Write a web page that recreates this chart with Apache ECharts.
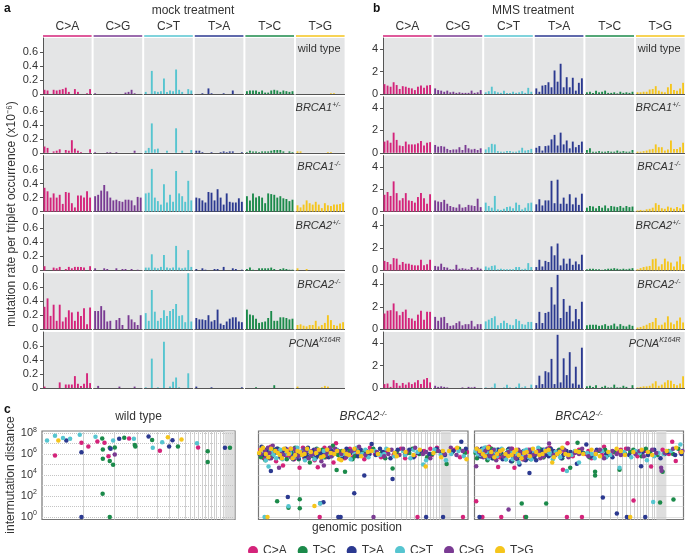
<!DOCTYPE html>
<html lang="en">
<head>
<meta charset="UTF-8">
<title>mutation spectra</title>
<style>html,body{margin:0;padding:0;background:#fff}#main{width:685px;height:553px}</style>
</head>
<body>
<div id="main"></div>
<script src="https://cdn.jsdelivr.net/npm/echarts@6/dist/echarts.min.js"></script>
<script>
// mutation classes and their colours
var groups = ['C>A', 'C>G', 'C>T', 'T>A', 'T>C', 'T>G'];
var groupColors = ['#d4237a', '#7a3b93', '#56c5d0', '#2b3990', '#1b8a4a', '#f5c51c'];
var contexts = ['A_A','A_C','A_G','A_T','C_A','C_C','C_G','C_T','G_A','G_C','G_G','G_T','T_A','T_C','T_G','T_T'];
var rowLabels = ['wild type', '{i|BRCA1}{s|+/-}', '{i|BRCA1}{s|-/-}', '{i|BRCA2}{s|+/-}', '{i|BRCA2}{s|-/-}', '{i|PCNA}{s|K164R}'];

// panel a: mock treatment (x10^-6)
var mockWildType = [
  [0.06,0.05,0,0.06,0.05,0.06,0.07,0.09,0.03,0,0.07,0.03,0,0,0.01,0.07],
  [0.01,0,0,0,0,0,0,0,0,0,0.02,0.03,0.06,0.01,0,0],
  [0.03,0,0.33,0.04,0.03,0.04,0.22,0.03,0.05,0.04,0.35,0.06,0.03,0,0.07,0.05],
  [0,0,0.01,0,0.08,0.01,0,0,0,0.01,0,0,0.05,0,0,0],
  [0.04,0.05,0.05,0.05,0.03,0.05,0.02,0.02,0.05,0.06,0.05,0.03,0.05,0.04,0.03,0.04],
  [0,0,0,0,0,0,0,0,0,0,0,0.01,0.01,0,0,0]
];
var mockBrca1Het = [
  [0.09,0.07,0,0.02,0.03,0.05,0,0.04,0.03,0.18,0.06,0.03,0.01,0,0,0.05],
  [0.01,0,0,0,0.01,0.01,0,0.01,0,0,0,0,0,0.03,0,0],
  [0.03,0.07,0.42,0.05,0.06,0,0,0.03,0,0,0.35,0,0.03,0,0,0.04],
  [0.03,0.03,0.01,0,0,0.01,0,0,0.01,0.02,0.01,0.02,0.02,0,0,0.01],
  [0.01,0.03,0.02,0.02,0.01,0.02,0.02,0.02,0.03,0.04,0.04,0.04,0.02,0,0.02,0.01],
  [0.02,0.02,0,0,0,0,0,0,0,0,0.01,0.01,0,0,0,0]
];
var mockBrca1Hom = [
  [0.34,0.29,0.2,0.26,0.2,0.24,0.11,0.28,0.27,0.12,0.06,0.23,0.23,0.2,0.29,0.2],
  [0.22,0.24,0.3,0.38,0.29,0.2,0.16,0.17,0.15,0.14,0.17,0.17,0.16,0.09,0.21,0.2],
  [0.26,0.27,0.61,0.2,0.15,0.1,0.39,0.13,0.24,0.14,0.58,0.26,0.22,0.14,0.44,0.16],
  [0.2,0.19,0.16,0.13,0.28,0.27,0.16,0.32,0.2,0.1,0.26,0.14,0.13,0.13,0.19,0.14],
  [0.22,0.16,0.26,0.2,0.22,0.2,0.12,0.26,0.25,0.24,0.2,0.22,0.19,0.18,0.15,0.17],
  [0.09,0.06,0.1,0.16,0.12,0.1,0.14,0.1,0.05,0.12,0.09,0.08,0.1,0.1,0.11,0.13]
];
var mockBrca2Het = [
  [0.06,0,0,0.04,0.03,0.05,0,0.02,0.05,0.03,0.05,0.05,0.05,0.04,0,0.06],
  [0.03,0,0,0.03,0.02,0,0,0.03,0,0.02,0.02,0,0.02,0,0.01,0],
  [0.04,0.04,0.23,0.04,0.03,0.05,0.22,0.04,0.03,0.04,0.35,0.04,0.03,0.04,0.29,0.05],
  [0.02,0,0.03,0.01,0,0,0.02,0.02,0,0.05,0,0,0.03,0.02,0,0.01],
  [0.02,0.04,0.01,0,0.03,0.03,0.03,0.03,0.04,0.02,0,0.02,0.03,0.02,0.01,0.01],
  [0.03,0,0,0.02,0,0,0,0,0,0,0,0,0,0,0,0]
];
var mockBrca2Hom = [
  [0.32,0.44,0.19,0.35,0.12,0.35,0.11,0.17,0.27,0.24,0.12,0.25,0.19,0.3,0.07,0.31],
  [0.26,0.26,0.33,0.27,0.11,0.12,0,0.13,0.16,0.06,0,0.2,0.14,0.1,0.06,0.2],
  [0.23,0.12,0.56,0.25,0.12,0.16,0.27,0.19,0.26,0.29,0.36,0.19,0.2,0.1,0.8,0.11],
  [0.16,0.14,0.14,0.13,0.2,0.11,0.13,0.28,0.08,0.06,0.11,0.15,0.17,0.17,0.11,0.1],
  [0.28,0.21,0.2,0.15,0.09,0.1,0.11,0.16,0.26,0.12,0.12,0.17,0.17,0.16,0.14,0.15],
  [0.06,0.07,0.05,0.04,0.06,0.06,0.12,0.04,0.06,0.09,0.2,0.13,0.06,0.05,0.08,0.1]
];
var mockPcna = [
  [0.02,0,0,0,0,0.08,0,0.05,0.05,0.05,0.17,0.06,0.03,0.06,0.21,0.07],
  [0,0.03,0,0,0,0,0,0,0.02,0,0,0,0,0.02,0,0],
  [0.01,0,0.42,0,0.01,0,0.66,0,0.02,0.09,0.15,0.01,0,0,0.21,0],
  [0.02,0,0,0,0,0.01,0,0,0,0,0,0,0,0,0,0.01],
  [0,0,0,0.01,0,0,0,0,0,0.04,0,0,0,0,0,0],
  [0.02,0,0,0,0,0,0,0,0.01,0.03,0.02,0,0,0,0,0]
];

// panel b: MMS treatment (x10^-6)
var mmsWildType = [
  [0.88,0.75,0.65,1.05,0.8,0.45,0.7,0.65,0.55,0.5,0.35,0.65,0.75,0.55,0.75,0.8],
  [0.5,0.35,0.3,0.2,0.3,0.15,0.2,0.1,0.15,0.1,0.1,0.1,0.3,0.1,0.15,0.35],
  [0.15,0.25,0.65,0.25,0.15,0.1,0.3,0.1,0.1,0.2,0.1,0.15,0.25,0.1,0.55,0.2],
  [0.5,0.2,0.75,0.8,1.05,0.6,2.1,1.1,2.7,0.6,1.5,0.6,1.45,0.3,1.0,1.4],
  [0.15,0.2,0.1,0.3,0.15,0.2,0.3,0.1,0.1,0.15,0.05,0.2,0.1,0.15,0.1,0.2],
  [0.15,0.15,0.2,0.2,0.4,0.45,0.7,0.3,0.2,0.15,0.6,0.9,0.35,0.3,0.5,1.0]
];
var mmsBrca1Het = [
  [1.0,1.1,0.9,1.8,1.15,0.65,0.6,1.0,0.75,0.75,0.75,0.85,1.05,0.65,0.9,0.95],
  [0.7,0.55,0.6,0.55,0.35,0.25,0.3,0.3,0.5,0.25,0.7,0.4,0.3,0.35,0.25,0.4],
  [0.3,0.5,0.8,0.75,0.15,0.1,0.1,0.15,0.15,0.1,0.1,0.2,0.45,0.2,0.25,0.35],
  [0.45,0.6,0.2,0.6,0.65,1.2,1.6,0.65,1.8,0.75,1.1,0.4,1.0,0.5,0.7,1.0],
  [0.25,0.4,0.1,0.1,0.15,0.1,0.1,0.15,0.1,0.1,0.2,0.1,0.15,0.1,0.1,0.25],
  [0.1,0.1,0.15,0.2,0.3,0.35,0.75,0.5,0.5,0.2,0.3,1.1,0.35,0.35,0.5,0.9]
];
var mmsBrca1Hom = [
  [1.5,1.75,1.4,2.7,1.65,1.0,1.2,1.65,1.0,0.95,0.8,1.3,1.65,1.2,0.7,1.55],
  [1.0,0.9,0.85,1.05,0.7,0.5,0.4,0.35,0.65,0.35,0.4,0.6,0.55,0.5,1.15,0.4],
  [0.8,0.5,0.35,1.4,0.2,0.15,0.25,0.4,0.45,0.3,0.8,0.6,0.2,0.35,0.75,0.8],
  [0.65,1.1,0.55,1.0,1.0,2.75,0.75,2.85,0.7,1.25,0.7,1.55,0.65,1.25,0.6,1.6],
  [0.35,0.5,0.45,0.3,0.5,0.35,0.55,0.3,0.5,0.45,0.4,0.5,0.35,0.5,0.4,0.45],
  [0.1,0.15,0.1,0.2,0.25,0.35,0.75,0.6,0.3,0.25,0.45,0.35,0.25,0.4,0.3,0.65]
];
var mmsBrca2Het = [
  [0.85,0.75,0.55,1.1,1.05,0.5,0.75,0.6,0.6,0.5,0.45,0.45,0.95,0.45,0.55,0.95],
  [0.4,0.35,0.6,0.3,0.25,0.1,0.1,0.5,0.15,0.2,0.15,0.1,0.3,0.1,0.25,0.15],
  [0.35,0.25,0.4,0.45,0.1,0.15,0.1,0.1,0.1,0.1,0.3,0.3,0.1,0.15,0.65,0.3],
  [0.3,0.95,0.35,0.85,0.75,2.15,1.35,2.4,0.45,1.05,0.6,1.05,0.5,0.8,0.55,1.4],
  [0.1,0.15,0.15,0.1,0.1,0.05,0.1,0.15,0.15,0.2,0.15,0.1,0.15,0.1,0.15,0.2],
  [0.1,0.2,0.3,0.35,0.4,1.0,1.05,0.35,0.55,1.05,0.8,0.7,0.35,0.8,1.25,0.55]
];
var mmsBrca2Hom = [
  [1.4,1.65,1.7,2.3,1.6,1.25,1.55,1.75,1.0,0.95,0.75,1.3,1.65,0.85,1.55,1.55],
  [1.1,0.75,1.05,1.1,0.55,0.3,0.35,0.55,0.7,0.35,0.45,0.45,0.75,0.25,0.45,0.45],
  [0.7,0.85,1.0,1.15,0.35,0.55,0.75,0.55,0.4,0.35,0.9,0.75,0.45,0.4,0.65,0.65],
  [0.55,1.55,0.55,1.45,1.55,3.75,2.2,4.85,1.0,2.7,1.55,2.1,0.7,1.8,0.9,2.45],
  [0.35,0.4,0.4,0.4,0.3,0.35,0.45,0.3,0.35,0.5,0.25,0.45,0.3,0.25,0.4,0.3],
  [0.15,0.2,0.3,0.4,0.55,0.65,1.0,0.35,0.4,0.6,1.15,0.6,0.45,0.75,1.05,0.6]
];
var mmsPcna = [
  [0.35,0.4,0.1,0.7,0.45,0.2,0.45,0.3,0.5,0.35,0.5,0.7,0.35,0.75,0.9,0.5],
  [0.2,0.1,0.15,0.1,0.05,0,0,0,0,0.05,0,0.1,0.05,0.1,0,0],
  [0.05,0,0.05,0.4,0,0,0.05,0.3,0.05,0,0.1,0.4,0.05,0.15,0,0.3],
  [0.25,1.1,0.35,1.5,1.4,2.6,0.35,4.75,0.5,2.65,1.15,3.2,0.4,1.9,0.3,3.6],
  [0.15,0.2,0.1,0.25,0,0.1,0.2,0.05,0.05,0.3,0.05,0.05,0.2,0.1,0,0.25],
  [0.05,0.1,0.15,0.15,0.2,0.4,0.6,0.2,0.3,0.5,0.7,0.65,0.35,0.25,0.4,1.05]
];

// panel c: chromosome boundaries (Mb, cumulative) and shaded block of micro chromosomes
var chromEnds = [195,346,456,548,606,651,683,706,724,743,762,778,794,806,821,833,849,862];
var microBlock = [870, 918];
var decades = [0,1,2,3,4,5,6,7,8];
var decadeLabels = [0,2,4,6,8];

// rainfall points: [genomic position Mb, log10 intermutation distance]
var wtCA = [[62,5.85],[188,7.09],[221,6.73],[264,7.19],[298,7.09],[317,5.78],[415,7.48],[562,6.31],[744,6.63]];
var wtTC = [[287,7.48],[290,6.44],[290,5.56],[323,6.6],[323,5.33],[339,4.97],[347,6.63],[392,7.55],[442,6.86],[445,6.73],[525,7.35],[648,6.73],[790,6.27],[790,5.23],[896,6.6],[289,2.22],[323,0]];
var wtTA = [[116,7.29],[188,6.18],[368,7.45],[508,7.68],[606,6.73],[622,7.32],[872,6.6],[188,0],[327,6.5]];
var wtCT = [[24,7.29],[62,7.75],[100,7.52],[134,7.45],[180,7.84],[255,7.65],[339,7.29],[438,7.45],[528,6.6],[573,7.12],[739,7.03]];
var wtCG = [[347,5.95]];
var wtTG = [[78,7.29],[600,7.61],[665,7.39]];

var b2aCA = [[8,6.4],[25,5.6],[40,6.1],[58,6.7],[84,5.3],[100,6.2],[117,4.9],[135,5.8],[152,6.5],[170,5.5],[188,6.0],[196,4.7],[212,6.6],[230,5.9],[252,6.3],[268,5.4],[283,4.73],[292,0],[305,6.1],[322,5.7],[340,6.4],[358,5.2],[370,7.02],[392,6.0],[412,5.6],[436,6.5],[462,5.9],[486,6.2],[505,5.5],[532,6.6],[556,6.0],[585,5.7],[612,6.3],[645,5.9],[680,6.5],[712,6.1],[745,5.8],[759,0],[790,6.3],[828,5.9],[852,6.6],[880,6.0],[935,6.4],[962,5.7],[976,0],[995,6.2],
  [18,5.9],[70,6.0],[142,6.1],[178,6.3],[220,5.6],[240,6.2],[315,6.6],[330,5.9],[380,6.3],[420,6.1],[450,5.7],[520,6.2],[600,5.9],[700,5.6],[820,6.5]];
var b2aTC = [[5,6.0],[18,6.6],[33,5.4],[50,6.3],[66,5.8],[89,1.49],[92,6.5],[110,5.6],[126,6.2],[143,0.86],[158,5.9],[175,6.6],[192,5.5],[197,1.68],[197,0.83],[210,6.1],[228,6.4],[245,5.2],[260,5.8],[278,6.5],[295,6.0],[315,5.7],[333,6.3],[355,6.8],[373,4.48],[380,5.9],[398,6.3],[413,4.32],[425,6.0],[448,5.5],[470,6.4],[495,6.1],[520,5.8],[548,6.5],[575,6.0],[605,5.6],[640,4.63],[660,6.2],[700,5.9],[735,6.5],[768,6.0],[805,5.7],[845,6.3],[875,6.0],[898,5.05],[925,6.2],[958,6.5],[985,6.1],
  [12,5.7],[40,6.2],[75,6.4],[102,6.0],[135,5.5],[165,6.2],[185,5.9],[218,6.0],[238,5.7],[268,6.2],[305,6.4],[342,5.9],[365,6.1],[390,5.6],[435,6.3],[460,5.8],[510,6.3],[590,6.2],[720,6.1],[830,6.0]];
var b2aTA = [[15,6.7],[28,5.9],[44,6.2],[59,4.38],[70,6.0],[88,6.5],[104,5.7],[120,6.3],[140,1.9],[148,6.0],[165,5.5],[182,6.4],[200,6.1],[218,5.8],[236,6.6],[255,6.0],[272,5.6],[290,6.3],[295,1.3],[310,1.4],[320,5.9],[345,6.4],[360,6.0],[381,0],[392,0],[400,5.7],[420,6.5],[440,6.1],[457,2.25],[475,5.8],[505,3.94],[515,6.3],[540,6.95],[560,5.9],[595,6.2],[630,5.6],[640,3.62],[665,6.4],[700,6.0],[740,5.7],[775,6.3],[800,0],[815,6.0],[850,6.5],[881,0],[890,5.9],[930,6.3],[968,7.17],[990,6.5],
  [8,6.0],[36,6.4],[52,5.6],[80,6.1],[96,6.2],[112,5.9],[130,6.5],[158,5.8],[175,6.0],[192,5.6],[210,6.3],[228,5.9],[245,6.2],[265,6.4],[282,5.8],[300,6.0],[335,5.7],[352,6.2],[410,6.2],[430,5.9],[488,6.4],[530,6.0],[580,6.5],[650,6.1],[720,6.4],[760,6.1],[870,6.2]];
var b2aCT = [[10,6.2],[29,0],[35,5.4],[48,4.8],[55,6.5],[72,5.9],[96,6.3],[115,5.5],[143,1.02],[150,6.1],[168,5.7],[185,6.6],[205,6.0],[222,5.4],[240,6.3],[258,5.9],[280,6.4],[294,1.27],[302,5.6],[325,6.1],[350,5.8],[375,6.4],[410,6.0],[440,5.5],[470,6.6],[495,6.0],[525,5.7],[555,6.3],[580,5.9],[610,6.5],[648,5.8],[690,6.3],[725,5.6],[760,6.2],[786,5.0],[800,5.4],[840,6.4],[870,5.9],[895,5.4],[920,6.0],[955,6.3],[980,5.8],
  [20,6.5],[62,6.1],[85,5.6],[105,6.4],[130,6.0],[175,6.3],[195,5.8],[215,6.4],[250,6.0],[268,5.5],[312,6.3],[340,6.0],[395,5.9],[455,6.2],[510,6.4],[600,6.0],[700,5.9],[740,6.4]];
var b2aCG = [[20,6.5],[38,5.8],[52,6.1],[68,6.8],[98,4.7],[108,6.0],[130,6.4],[155,5.7],[178,6.2],[198,5.9],[218,6.5],[240,5.6],[262,6.0],[286,6.3],[300,5.3],[312,4.9],[330,6.2],[348,5.8],[366,6.5],[395,6.0],[418,5.7],[445,6.3],[480,6.7],[510,5.9],[549,0],[565,6.2],[600,5.8],[635,6.4],[672,5.9],[708,6.2],[748,6.6],[785,6.0],[820,5.6],[858,6.3],[888,6.0],[918,6.6],[945,5.9],[975,6.3],
  [10,6.0],[30,6.3],[45,6.6],[60,5.6],[85,6.3],[120,5.9],[142,6.2],[168,6.5],[188,5.8],[208,6.1],[228,6.3],[252,5.9],[275,6.4],[322,5.9],[340,6.6],[358,6.1],[380,6.3],[430,6.0],[460,6.4],[530,6.2],[620,6.0],[690,6.5],[800,6.2]];
var b2aTG = [[3,6.1],[22,6.6],[43,0],[47,5.7],[80,6.3],[102,5.9],[122,6.5],[145,6.0],[163,5.6],[186,6.3],[208,5.9],[232,6.5],[267,1.05],[275,6.1],[298,5.7],[328,6.4],[362,6.0],[385,5.5],[405,6.3],[432,5.9],[458,6.5],[490,5.8],[522,6.2],[570,6.0],[620,6.4],[660,5.8],[702,6.2],[740,5.9],[770,6.4],[798,4.8],[835,6.1],[872,5.7],[910,6.3],[948,6.6],[993,5.5],
  [12,6.4],[35,6.0],[60,6.5],[92,6.1],[112,5.6],[135,6.3],[155,6.5],[175,5.9],[198,6.2],[220,6.0],[250,6.2],[288,6.4],[310,5.8],[345,6.1],[375,6.3],[395,5.4],[420,6.0],[475,6.2],[540,6.3],[650,6.1],[880,6.3]];

var b2bCA = [[8,1.49],[38,0],[15,6.4],[30,5.8],[50,6.2],[70,6.7],[113,4.76],[90,6.0],[128,0],[145,5.6],[168,6.3],[191,4.7],[210,6.0],[242,0],[230,5.5],[258,6.4],[280,5.9],[300,6.2],[330,5.7],[360,6.6],[385,5.9],[423,4.5],[430,6.2],[442,0],[445,7.02],[470,5.8],[500,6.4],[514,0],[530,6.0],[560,5.6],[590,6.3],[620,6.7],[655,5.9],[690,6.2],[725,6.5],[761,1.56],[780,5.8],[815,6.3],[845,4.8],[870,6.0],[900,6.4],[946,7.17],[963,5.33],[985,6.2],
  [22,6.1],[60,5.9],[80,6.5],[100,6.2],[120,5.7],[155,6.0],[180,6.5],[220,6.2],[245,5.8],[270,6.1],[315,6.4],[345,6.0],[400,6.3],[455,6.0],[485,6.2],[545,6.3],[610,5.9],[700,6.4],[795,6.1],[930,6.0]];
var b2bTC = [[12,5.6],[25,6.3],[45,6.0],[62,5.4],[80,6.5],[100,5.9],[120,6.2],[140,5.7],[160,6.4],[180,5.3],[200,6.0],[226,1.27],[220,5.8],[247,0],[250,6.3],[270,5.5],[290,5.9],[310,6.5],[330,5.7],[343,1.27],[355,6.1],[380,5.8],[405,6.4],[458,4.7],[493,7.08],[520,6.1],[550,5.7],[577,4.32],[577,3.94],[600,6.3],[640,5.9],[670,6.2],[694,4.5],[720,6.0],[760,6.4],[800,5.8],[840,6.2],[888,1.37],[875,5.9],[900,4.32],[930,6.3],[952,1.65],[975,6.5],
  [5,6.1],[35,5.8],[55,6.6],[72,6.0],[90,5.6],[110,6.4],[130,6.0],[150,5.5],[170,6.1],[190,5.9],[210,6.3],[236,5.5],[262,6.2],[280,5.8],[300,6.1],[320,6.4],[368,6.0],[392,6.2],[420,5.6],[440,6.0],[505,6.3],[580,6.0],[625,6.4],[745,6.2],[820,6.5],[950,6.0]];
var b2bTA = [[24,0],[18,6.0],[35,6.5],[55,5.7],[75,6.2],[95,5.9],[115,6.4],[135,5.5],[155,6.1],[175,5.3],[195,5.8],[215,5.0],[235,6.3],[263,4.19],[255,5.6],[275,6.0],[295,5.4],[318,6.2],[340,5.9],[365,6.5],[390,6.0],[415,5.6],[440,6.3],[490,5.08],[510,6.1],[535,6.9],[560,5.8],[585,6.4],[614,1.84],[630,6.0],[660,5.7],[681,0.32],[700,6.3],[729,0],[740,5.9],[775,6.2],[797,4.83],[817,0],[830,5.9],[860,6.4],[890,5.6],[925,6.2],[960,5.9],[990,6.0],
  [8,6.3],[28,5.8],[45,6.1],[65,6.4],[85,5.6],[105,6.0],[125,6.2],[145,5.9],[165,6.5],[185,5.7],[205,5.5],[225,6.1],[245,5.4],[265,6.2],[285,5.7],[305,6.0],[330,6.4],[355,5.8],[378,6.3],[400,6.1],[425,5.9],[460,6.2],[545,6.0],[610,6.3],[710,6.0],[805,6.2],[910,6.0]];
var b2bCT = [[5,6.3],[28,5.9],[48,6.6],[68,5.6],[88,6.1],[108,5.8],[130,6.5],[150,5.5],[172,6.2],[192,5.9],[212,5.2],[238,6.3],[260,5.7],[285,6.1],[305,6.6],[325,5.8],[350,6.2],[375,5.5],[400,6.0],[425,6.5],[442,4.38],[465,5.9],[500,5.2],[540,6.1],[575,5.6],[610,6.3],[650,5.9],[694,4.7],[715,6.2],[750,5.7],[790,6.1],[825,5.4],[855,1.43],[860,5.8],[905,6.0],[940,6.3],[985,6.9],
  [15,6.0],[38,6.4],[58,6.2],[78,5.9],[98,6.4],[118,6.1],[140,5.8],[162,6.3],[182,5.5],[200,6.1],[225,5.9],[248,6.4],[272,5.5],[295,6.2],[315,5.9],[338,6.4],[362,6.0],[388,6.2],[410,5.7],[480,6.3],[560,6.0],[630,5.7],[770,6.3],[880,6.1]];
var b2bCG = [[8,4.83],[22,6.2],[42,5.7],[62,6.5],[82,6.0],[104,5.4],[125,6.3],[163,0.7],[150,5.9],[175,6.5],[198,5.6],[222,6.1],[245,5.8],[268,6.4],[292,6.0],[315,5.6],[338,6.2],[357,7.0],[378,5.9],[410,6.3],[450,5.7],[480,6.1],[515,6.5],[545,5.8],[580,6.2],[620,5.6],[660,6.3],[700,5.9],[735,6.5],[770,6.0],[810,5.8],[850,6.4],[893,4.7],[895,4.4],[910,6.1],[950,6.5],[995,6.3],
  [12,6.5],[32,6.0],[52,6.3],[72,5.8],[92,6.4],[115,6.0],[138,5.8],[162,6.2],[185,5.9],[210,6.4],[235,5.5],[258,6.2],[280,5.9],[305,6.3],[328,5.8],[348,6.5],[395,6.0],[430,6.4],[500,6.0],[600,6.4],[680,6.0],[790,6.3],[870,6.1]];
var b2bTG = [[10,6.5],[40,6.0],[65,6.6],[95,5.7],[122,6.3],[148,6.0],[178,5.9],[200,6.4],[225,5.6],[250,6.2],[280,6.5],[310,5.9],[340,6.3],[372,5.2],[395,6.0],[420,6.6],[450,5.9],[485,6.3],[520,6.0],[560,6.4],[600,5.8],[640,6.2],[680,6.5],[720,5.9],[745,0],[760,6.2],[800,6.4],[850,5.9],[920,6.3],[965,6.6],[990,6.2],
  [25,6.3],[50,5.8],[80,6.2],[108,6.0],[135,6.4],[162,5.8],[190,6.2],[212,5.9],[238,6.1],[265,5.8],[295,6.2],[325,6.0],[355,6.4],[380,5.7],[408,6.2],[435,6.0],[500,6.2],[580,6.0],[700,6.3],[830,6.2]];

var chart = echarts.init(document.getElementById('main'));
var font = '"Liberation Sans", Arial, sans-serif';

var grids = [], xAxes = [], yAxes = [], series = [], graphics = [];

// bar panel layout
var rowTops = [38, 96.8, 155.6, 214.4, 273.2, 332];
var rowH = 56;
var groupStep = 50.6, groupW = 48.6;

function addBarPanel(panelLeft, rows, yMax, ticks, tag) {
  rows.forEach(function (rowData, r) {
    rowData.forEach(function (vals, g) {
      var gi = grids.length;
      grids.push({ left: panelLeft + g * groupStep, top: rowTops[r], width: groupW, height: rowH,
        show: true, backgroundColor: '#e4e5e6', borderWidth: 0 });
      xAxes.push({ type: 'category', gridIndex: gi, data: contexts,
        axisLine: { show: true, lineStyle: { color: '#555', width: 1 } },
        axisTick: { show: false }, axisLabel: { show: false } });
      var first = g === 0;
      yAxes.push({ type: 'value', gridIndex: gi, min: 0, max: yMax, splitLine: { show: false },
        axisLine: { show: first, lineStyle: { color: '#555', width: 1 } },
        axisTick: { show: first, length: 3, customValues: ticks, lineStyle: { color: '#555' } },
        axisLabel: { show: first, customValues: ticks, fontSize: 11, color: '#333', fontFamily: font, margin: 5 } });
      series.push({ type: 'bar', name: tag + r + '-' + g, xAxisIndex: gi, yAxisIndex: gi,
        data: vals, barWidth: '62%', itemStyle: { color: groupColors[g] }, silent: true });
    });
    graphics.push({ type: 'text', x: panelLeft + 5 * groupStep + groupW - 4, y: rowTops[r] + 5,
      style: { text: rowLabels[r], align: 'right', verticalAlign: 'top', fill: '#333',
        font: '11px ' + font,
        rich: { i: { fontStyle: 'italic', fontSize: 11, fontFamily: font, fill: '#333' },
                s: { fontStyle: 'italic', fontSize: 7, fontFamily: font, fill: '#333', padding: [0, 0, 6, 0] } } } });
  });
  groups.forEach(function (name, g) {
    var l = panelLeft + g * groupStep;
    graphics.push({ type: 'line', shape: { x1: l, y1: 36, x2: l + groupW, y2: 36 },
      style: { stroke: groupColors[g], lineWidth: 1.5 } });
    graphics.push({ type: 'text', x: l + groupW / 2, y: 27,
      style: { text: name, align: 'center', verticalAlign: 'middle', fill: '#333', font: '12px ' + font } });
  });
}

addBarPanel(43, [mockWildType, mockBrca1Het, mockBrca1Hom, mockBrca2Het, mockBrca2Hom, mockPcna], 0.8, [0, 0.2, 0.4, 0.6], 'mock');
addBarPanel(383, [mmsWildType, mmsBrca1Het, mmsBrca1Hom, mmsBrca2Het, mmsBrca2Hom, mmsPcna], 5, [0, 2, 4], 'mms');

// rainfall panels
var legendOrder = ['C>A', 'T>C', 'T>A', 'C>T', 'C>G', 'T>G'];
var legendColors = ['#d4237a', '#1b8a4a', '#2b3990', '#56c5d0', '#7a3b93', '#f5c51c'];
var rainPanels = [
  { left: 42, width: 193, xMax: 920, title: 'wild type', sets: [wtCA, wtTC, wtTA, wtCT, wtCG, wtTG] },
  { left: 258.5, width: 209.5, xMax: 1000, title: '{i|BRCA2}{s|-/-}', sets: [b2aCA, b2aTC, b2aTA, b2aCT, b2aCG, b2aTG] },
  { left: 474.5, width: 209, xMax: 1000, title: '{i|BRCA2}{s|-/-}', sets: [b2bCA, b2bTC, b2bTA, b2bCT, b2bCG, b2bTG] }
];
rainPanels.forEach(function (p, k) {
  var gi = grids.length;
  grids.push({ left: p.left, top: 431, width: p.width, height: 88.5, show: true,
    backgroundColor: 'rgba(0,0,0,0)', borderColor: '#777', borderWidth: 1.2, z: 0 });
  xAxes.push({ type: 'value', gridIndex: gi, min: 0, max: p.xMax,
    axisLine: { show: false }, axisTick: { show: false }, axisLabel: { show: false }, splitLine: { show: false } });
  yAxes.push({ type: 'value', gridIndex: gi, min: -0.25, max: 8.2, splitLine: { show: false },
    axisLine: { show: false }, axisTick: { show: false },
    axisLabel: { show: k === 0, customValues: decadeLabels, margin: 5,
      formatter: function (v) { return '{b|10}{s|' + v + '}'; },
      rich: { b: { fontSize: 11, color: '#333', fontFamily: font },
              s: { fontSize: 7, color: '#333', fontFamily: font, padding: [0, 0, 7, 0] } } } });
  var lines = chromEnds.filter(function (v) { return v < p.xMax; }).map(function (v) {
    return { xAxis: v, lineStyle: { color: '#d0d0d0', type: 'solid', width: 1 } };
  }).concat(decades.map(function (d) {
    return { yAxis: d, lineStyle: { color: '#c4c4c4', type: 'dotted', width: 1 } };
  }));
  series.push({ type: 'scatter', name: 'guide' + k, xAxisIndex: gi, yAxisIndex: gi, data: [], z: 1, silent: true,
    markLine: { silent: true, symbol: 'none', label: { show: false }, animation: false, data: lines },
    markArea: { silent: true, itemStyle: { color: '#dedede' }, data: [[{ xAxis: microBlock[0] }, { xAxis: microBlock[1] }]] } });
  p.sets.forEach(function (pts, j) {
    series.push({ type: 'scatter', name: legendOrder[j], xAxisIndex: gi, yAxisIndex: gi, data: pts,
      symbolSize: 4.5, z: 5, itemStyle: { color: legendColors[j], opacity: 1 } });
  });
  graphics.push({ type: 'text', x: p.left + p.width / 2, y: 417,
    style: { text: p.title, align: 'center', verticalAlign: 'middle', fill: '#333', font: '12px ' + font,
      rich: { i: { fontStyle: 'italic', fontSize: 12, fontFamily: font, fill: '#333' },
              s: { fontStyle: 'italic', fontSize: 8, fontFamily: font, fill: '#333', padding: [0, 0, 6, 0] } } } });
});

// panel letters, titles and axis names
graphics.push(
  { type: 'text', x: 4, y: 3, style: { text: 'a', font: 'bold 12px ' + font, fill: '#111' } },
  { type: 'text', x: 373, y: 3, style: { text: 'b', font: 'bold 12px ' + font, fill: '#111' } },
  { type: 'text', x: 4, y: 404, style: { text: 'c', font: 'bold 12px ' + font, fill: '#111' } },
  { type: 'text', x: 193, y: 11, style: { text: 'mock treatment', align: 'center', verticalAlign: 'middle', font: '12px ' + font, fill: '#333' } },
  { type: 'text', x: 533, y: 11, style: { text: 'MMS treatment', align: 'center', verticalAlign: 'middle', font: '12px ' + font, fill: '#333' } },
  { type: 'text', x: 12, y: 214, rotation: Math.PI / 2,
    style: { text: 'mutation rate per triplet occurrence (x10\u207B\u2076)', align: 'center', verticalAlign: 'middle', font: '12px ' + font, fill: '#333' } },
  { type: 'text', x: 11, y: 475, rotation: Math.PI / 2,
    style: { text: 'intermutation distance', align: 'center', verticalAlign: 'middle', font: '12px ' + font, fill: '#333' } },
  { type: 'text', x: 357, y: 528, style: { text: 'genomic position', align: 'center', verticalAlign: 'middle', font: '12px ' + font, fill: '#333' } }
);

chart.setOption({
  animation: false,
  grid: grids,
  xAxis: xAxes,
  yAxis: yAxes,
  series: series,
  graphic: graphics,
  legend: { data: legendOrder, left: 243, top: 540, icon: 'circle', itemWidth: 10, itemHeight: 10, itemGap: 11,
    selectedMode: false, textStyle: { fontSize: 12, color: '#333', fontFamily: font } }
});
</script>
</body>
</html>
